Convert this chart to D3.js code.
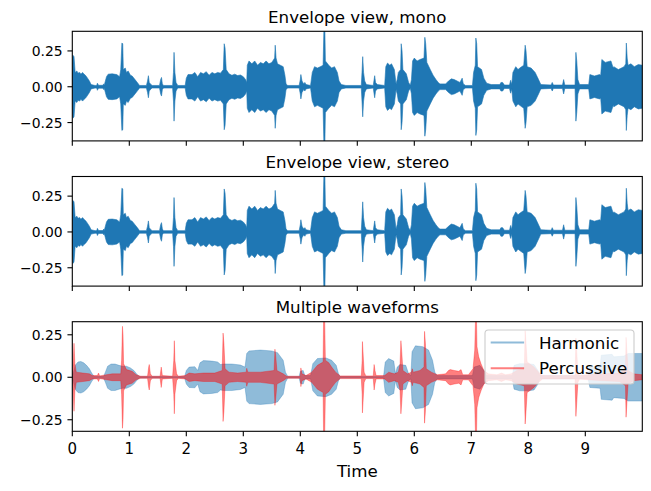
<!DOCTYPE html>
<html>
<head>
<meta charset="UTF-8">
<title></title>
<script src="https://cdn.jsdelivr.net/npm/d3@7/dist/d3.min.js"></script>
<style>
  body { margin: 0; background: #fff; }
  svg text { font-family: "DejaVu Sans", sans-serif; fill: #000; }
</style>
</head>
<body>
<svg id="chart" width="651" height="491"></svg>
<script>
// envelope breakpoints: [time (s), amplitude]
var monoEnv = [
  [0.0,0.12],[0.01,0.22],[0.03,0.21],[0.05,0.10],[0.08,0.11],[0.1,0.095],[0.13,0.1],[0.15,0.088],[0.18,0.1],[0.2,0.09],[0.23,0.08],[0.25,0.07],[0.3,0.04],[0.33,0.015],
  [0.4,0.009],[0.43,0.01],[0.44,0.025],[0.46,0.01],[0.54,0.01],[0.55,0.02],[0.56,0.01],[0.58,0.04],[0.6,0.07],[0.63,0.088],
  [0.7,0.09],[0.78,0.085],[0.83,0.07],[0.85,0.12],[0.87,0.305],[0.885,0.3],[0.895,0.12],[0.93,0.13],[0.95,0.1],[0.98,0.11],[1.02,0.08],[1.05,0.075],
  [1.1,0.05],[1.15,0.025],[1.18,0.009],[1.3,0.009],[1.32,0.04],[1.335,0.077],[1.35,0.03],[1.38,0.015],[1.4,0.009],[1.53,0.009],
  [1.55,0.05],[1.565,0.065],[1.58,0.02],[1.6,0.009],[1.76,0.009],[1.775,0.1],[1.785,0.24],[1.8,0.1],[1.82,0.03],[1.85,0.009],
  [1.98,0.009],[2.0,0.06],[2.03,0.085],[2.1,0.085],[2.15,0.1],[2.2,0.07],[2.25,0.1],[2.3,0.09],[2.35,0.105],[2.4,0.08],[2.45,0.1],[2.5,0.09],
  [2.55,0.1],[2.6,0.095],[2.65,0.12],[2.665,0.3],[2.68,0.27],[2.7,0.12],[2.75,0.09],[2.8,0.08],[2.85,0.088],[2.9,0.078],[2.95,0.082],[3.0,0.07],
  [3.04,0.05],[3.06,0.03],[3.07,0.15],[3.1,0.18],[3.15,0.16],[3.2,0.18],[3.25,0.15],[3.3,0.17],[3.35,0.16],[3.4,0.18],[3.45,0.16],[3.5,0.17],[3.55,0.2],
  [3.56,0.29],[3.575,0.2],[3.6,0.16],[3.65,0.15],[3.7,0.14],[3.73,0.08],[3.75,0.02],[3.78,0.009],[3.98,0.009],[4.0,0.05],[4.01,0.085],
  [4.03,0.04],[4.06,0.02],[4.08,0.03],[4.1,0.015],[4.18,0.009],[4.21,0.1],[4.25,0.14],[4.3,0.13],[4.35,0.14],[4.4,0.15],[4.415,0.42],
  [4.43,0.42],[4.44,0.18],[4.5,0.15],[4.55,0.13],[4.6,0.14],[4.65,0.1],[4.68,0.04],[4.72,0.015],[4.8,0.009],[5.07,0.009],[5.085,0.12],
  [5.095,0.21],[5.11,0.1],[5.13,0.04],[5.16,0.015],[5.28,0.009],[5.295,0.05],[5.305,0.077],[5.32,0.03],[5.35,0.015],[5.48,0.009],
  [5.5,0.14],[5.53,0.165],[5.57,0.15],[5.6,0.16],[5.65,0.12],[5.68,0.02],[5.7,0.05],[5.72,0.1],[5.76,0.12],[5.77,0.3],[5.785,0.25],
  [5.8,0.12],[5.86,0.09],[5.9,0.03],[5.93,0.01],[5.95,0.05],[5.97,0.18],[6.0,0.2],[6.05,0.18],[6.1,0.19],[6.17,0.2],[6.185,0.345],
  [6.2,0.3],[6.22,0.17],[6.28,0.12],[6.33,0.08],[6.38,0.05],[6.42,0.03],[6.45,0.02],[6.55,0.02],[6.6,0.04],[6.65,0.055],
  [6.7,0.05],[6.75,0.04],[6.8,0.03],[6.84,0.06],[6.86,0.02],[6.9,0.009],[7.02,0.009],[7.04,0.1],[7.07,0.15],[7.08,0.34],
  [7.095,0.3],[7.11,0.14],[7.18,0.12],[7.22,0.06],[7.27,0.025],[7.35,0.015],[7.5,0.015],[7.52,0.03],[7.55,0.03],[7.58,0.012],
  [7.67,0.012],[7.69,0.045],[7.71,0.015],[7.73,0.1],[7.78,0.14],[7.82,0.12],[7.85,0.13],[7.92,0.15],[7.945,0.29],[7.96,0.25],[7.98,0.14],
  [8.05,0.13],[8.12,0.1],[8.18,0.05],[8.22,0.015],[8.4,0.012],[8.42,0.03],[8.44,0.012],[8.6,0.012],[8.62,0.05],[8.64,0.012],
  [8.82,0.012],[8.835,0.24],[8.85,0.18],[8.87,0.05],[8.9,0.015],[9.06,0.015],[9.08,0.085],[9.16,0.075],[9.25,0.085],[9.27,0.08],[9.29,0.19],
  [9.35,0.17],[9.45,0.18],[9.49,0.13],[9.5,0.14],[9.58,0.12],[9.68,0.14],[9.71,0.16],[9.72,0.305],[9.735,0.2],[9.75,0.15],[9.8,0.16],[9.86,0.14],[9.93,0.155],[10.0,0.15]
];
// the stereo panel looks the same as the mono one
var stereoEnv = monoEnv;

var harmonicEnv = [
  [0.0,0.005],[0.02,0.03],[0.05,0.07],[0.1,0.09],[0.15,0.093],[0.2,0.085],[0.25,0.07],[0.3,0.05],[0.34,0.025],[0.38,0.006],
  [0.55,0.006],[0.58,0.03],[0.62,0.065],[0.68,0.078],[0.75,0.078],[0.82,0.07],[0.88,0.065],[0.95,0.065],[1.02,0.055],[1.08,0.04],
  [1.14,0.015],[1.18,0.005],[1.97,0.005],[2.0,0.04],[2.05,0.06],[2.15,0.062],[2.2,0.04],[2.24,0.085],[2.3,0.098],[2.45,0.095],
  [2.55,0.09],[2.6,0.075],[2.65,0.078],[2.8,0.078],[2.95,0.072],[3.03,0.06],[3.06,0.14],[3.1,0.155],[3.3,0.16],[3.5,0.155],
  [3.6,0.145],[3.7,0.1],[3.74,0.03],[3.78,0.005],[3.98,0.005],[4.0,0.035],[4.05,0.04],[4.08,0.01],[4.18,0.01],[4.22,0.08],
  [4.3,0.11],[4.45,0.114],[4.55,0.1],[4.63,0.07],[4.67,0.02],[4.7,0.005],[5.46,0.005],[5.49,0.09],[5.55,0.11],[5.64,0.095],
  [5.67,0.02],[5.7,0.06],[5.75,0.075],[5.85,0.07],[5.9,0.02],[5.94,0.01],[5.96,0.15],[6.02,0.185],[6.15,0.18],[6.25,0.16],
  [6.32,0.1],[6.36,0.03],[6.4,0.01],[6.6,0.01],[6.8,0.01],[7.02,0.01],[7.05,0.06],[7.15,0.07],[7.22,0.04],[7.26,0.01],
  [7.72,0.01],[7.75,0.07],[7.85,0.08],[8.0,0.08],[8.1,0.075],[8.17,0.04],[8.2,0.01],[9.05,0.01],[9.08,0.06],[9.26,0.065],
  [9.28,0.13],[9.47,0.135],[9.5,0.12],[9.68,0.125],[9.75,0.14],[10.0,0.14]
];

var percussiveEnv = [
  [0.0,0.02],[0.015,0.08],[0.03,0.2],[0.045,0.08],[0.07,0.03],[0.3,0.02],[0.35,0.01],[0.44,0.01],[0.46,0.025],[0.48,0.008],
  [0.6,0.015],[0.7,0.02],[0.85,0.02],[0.865,0.1],[0.88,0.3],[0.89,0.25],[0.9,0.08],[0.95,0.045],[1.05,0.035],[1.12,0.015],
  [1.2,0.006],[1.32,0.006],[1.34,0.06],[1.35,0.075],[1.37,0.02],[1.4,0.006],[1.54,0.006],[1.56,0.06],[1.58,0.01],[1.76,0.006],
  [1.78,0.1],[1.79,0.215],[1.8,0.1],[1.83,0.02],[1.86,0.006],[1.98,0.01],[2.05,0.025],[2.15,0.02],[2.3,0.025],[2.5,0.025],
  [2.63,0.04],[2.645,0.26],[2.66,0.2],[2.68,0.05],[2.75,0.03],[2.9,0.025],[3.05,0.03],[3.06,0.053],[3.08,0.03],[3.3,0.03],
  [3.54,0.04],[3.555,0.165],[3.57,0.12],[3.59,0.04],[3.7,0.02],[3.76,0.006],[4.0,0.006],[4.01,0.055],[4.03,0.02],[4.1,0.01],
  [4.2,0.03],[4.3,0.07],[4.4,0.09],[4.41,0.4],[4.425,0.4],[4.44,0.1],[4.5,0.085],[4.55,0.06],[4.62,0.03],[4.7,0.008],
  [5.07,0.008],[5.085,0.1],[5.09,0.21],[5.1,0.15],[5.12,0.03],[5.15,0.008],[5.28,0.008],[5.295,0.075],[5.31,0.04],[5.33,0.01],
  [5.48,0.01],[5.55,0.03],[5.65,0.02],[5.72,0.03],[5.75,0.08],[5.765,0.215],[5.78,0.15],[5.8,0.04],[5.88,0.02],[5.95,0.03],
  [5.965,0.05],[5.98,0.03],[6.1,0.04],[6.17,0.06],[6.18,0.27],[6.195,0.2],[6.21,0.05],[6.3,0.03],[6.4,0.015],[6.55,0.02],
  [6.6,0.04],[6.63,0.045],[6.7,0.04],[6.78,0.035],[6.82,0.045],[6.85,0.015],[6.95,0.015],[7.03,0.05],[7.06,0.16],[7.075,0.36],
  [7.09,0.36],[7.1,0.18],[7.13,0.12],[7.17,0.08],[7.22,0.04],[7.3,0.02],[7.45,0.015],[7.53,0.025],[7.6,0.015],[7.7,0.02],
  [7.8,0.04],[7.93,0.05],[7.945,0.275],[7.96,0.2],[7.98,0.09],[8.1,0.06],[8.18,0.03],[8.25,0.01],[8.82,0.01],[8.835,0.23],
  [8.85,0.15],[8.87,0.03],[8.9,0.01],[9.05,0.015],[9.3,0.02],[9.6,0.025],[9.705,0.05],[9.715,0.235],[9.73,0.15],[9.75,0.04],
  [9.85,0.02],[10.0,0.015]
];

var timeTicks = [0, 1, 2, 3, 4, 5, 6, 7, 8, 9];
var ampTicks = [-0.25, 0, 0.25];
var titles = ['Envelope view, mono', 'Envelope view, stereo', 'Multiple waveforms'];
var legendLabels = ['Harmonic', 'Percussive'];
var xLabel = 'Time';

var left = 72.3, right = 642.3, panelH = 109.6;
var tops = [31.3, 176.5, 321.7];
var tickLen = 4.86;

var svg = d3.select('#chart');
var x = d3.scaleLinear().domain([0, 10]).range([left, right]);

var panels = [
  { title: titles[0], domain: [-0.378, 0.387], series: [{ env: monoEnv, color: '#1f77b4', alpha: 1 }] },
  { title: titles[1], domain: [-0.378, 0.387], series: [{ env: stereoEnv, color: '#1f77b4', alpha: 1 }] },
  { title: titles[2], domain: [-0.318, 0.327], series: [
      { env: harmonicEnv, color: '#1f77b4', alpha: 0.5, label: legendLabels[0] },
      { env: percussiveEnv, color: '#ff0000', alpha: 0.5, label: legendLabels[1] }
  ], legend: true }
];

var fmt = function(v){ return d3.format('.2f')(v).replace('-', '\u2212'); };

panels.forEach(function(p, i){
  var top = tops[i];
  var y = d3.scaleLinear().domain(p.domain).range([top + panelH, top]);
  var g = svg.append('g');

  g.append('clipPath').attr('id', 'clip' + i)
    .append('rect').attr('x', left).attr('y', top).attr('width', right - left).attr('height', panelH);

  var area = d3.area()
    .x(function(d){ return x(d[0]); })
    .y0(function(d){ return y(-d[1]); })
    .y1(function(d){ return y(d[1]); });

  var plot = g.append('g').attr('clip-path', 'url(#clip' + i + ')');
  p.series.forEach(function(s){
    plot.append('path')
      .attr('d', area(s.env))
      .attr('fill', s.color)
      .attr('fill-opacity', s.alpha)
      .attr('stroke', s.color)
      .attr('stroke-opacity', s.alpha)
      .attr('stroke-width', 0.6)
      .attr('stroke-linejoin', 'round');
  });

  // frame
  g.append('rect')
    .attr('x', left).attr('y', top).attr('width', right - left).attr('height', panelH)
    .attr('fill', 'none').attr('stroke', '#000').attr('stroke-width', 1.1);

  // y ticks
  ampTicks.forEach(function(t){
    var yy = y(t);
    g.append('line').attr('x1', left - tickLen).attr('x2', left).attr('y1', yy).attr('y2', yy)
      .attr('stroke', '#000').attr('stroke-width', 1.1);
    g.append('text').attr('x', left - tickLen - 4.86).attr('y', yy + 5)
      .attr('text-anchor', 'end').style('font-size', '13.9px').text(fmt(t));
  });

  // x ticks (labels only on the bottom panel)
  timeTicks.forEach(function(t){
    var xx = x(t);
    g.append('line').attr('x1', xx).attr('x2', xx).attr('y1', top + panelH).attr('y2', top + panelH + tickLen)
      .attr('stroke', '#000').attr('stroke-width', 1.1);
    if (i === panels.length - 1) {
      g.append('text').attr('x', xx).attr('y', top + panelH + 23)
        .attr('text-anchor', 'middle').style('font-size', '15px').text(t);
    }
  });

  g.append('text').attr('x', (left + right) / 2).attr('y', top - 8.6)
    .attr('text-anchor', 'middle').style('font-size', '16.7px').text(p.title);

  if (p.legend) {
    var fs = 16.7;
    var lw = 149, lh = 54;
    var lx = right - 8.3 - lw, ly = top + 8.3;
    var lg = g.append('g');
    lg.append('rect').attr('x', lx).attr('y', ly).attr('width', lw).attr('height', lh)
      .attr('rx', 3.3).attr('ry', 3.3)
      .attr('fill', '#fff').attr('fill-opacity', 0.8)
      .attr('stroke', '#cccccc').attr('stroke-width', 1.1);
    p.series.forEach(function(s, k){
      var ry = ly + 12.5 + k * 25.7;
      lg.append('line').attr('x1', lx + 5.7).attr('x2', lx + 5.7 + 33.4).attr('y1', ry).attr('y2', ry)
        .attr('stroke', s.color).attr('stroke-opacity', s.alpha).attr('stroke-width', 2.1);
      lg.append('text').attr('x', lx + 54).attr('y', ry + 6)
        .style('font-size', fs + 'px').text(s.label);
    });
  }
});

svg.append('text').attr('x', (left + right) / 2).attr('y', 476.5)
  .attr('text-anchor', 'middle').style('font-size', '16.7px').text(xLabel);
</script>
</body>
</html>
